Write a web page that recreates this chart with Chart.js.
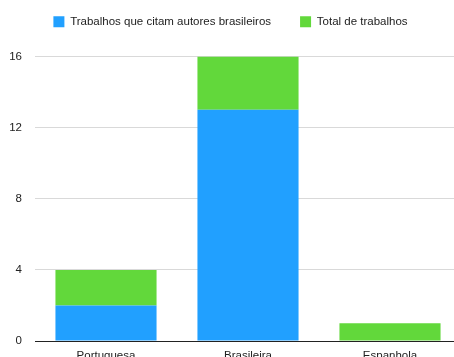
<!DOCTYPE html>
<html>
<head>
<meta charset="utf-8">
<script src="https://cdn.jsdelivr.net/npm/chart.js@4"></script>
<style>
  html, body { margin: 0; padding: 0; background: #fff; overflow: hidden; }
  canvas { display: block; }
</style>
</head>
<body>
<canvas id="chart" width="461" height="372"></canvas>
<script>
// data
const categories = ['Portuguesa', 'Brasileira', 'Espanhola'];
const citingBrazilian = [2, 13, 0];
const totalWorks = [2, 3, 1];
const yTicks = [0, 4, 8, 12, 16];

const FONT = { family: "'Liberation Sans', Arial, Helvetica, sans-serif", size: 11.5 };

// fixed legend height so the plot top sits where the reference has it
const legendHeight = {
    id: 'legendHeight',
    beforeInit(chart) {
        const fit = chart.legend.fit;
        chart.legend.fit = function () {
            fit.call(this);
            this.height = 69.5;
        };
    }
};

new Chart(document.getElementById('chart'), {
    type: 'bar',
    data: {
        labels: categories,
        datasets: [
            {
                label: 'Trabalhos que citam autores brasileiros',
                data: citingBrazilian,
                backgroundColor: '#21a0ff'
            },
            {
                label: 'Total de trabalhos',
                data: totalWorks,
                backgroundColor: '#62d83b'
            }
        ]
    },
    options: {
        responsive: false,
        animation: false,
        layout: { padding: { top: -13, left: 0, right: 0, bottom: 0 } },
        datasets: {
            bar: { categoryPercentage: 0.712, barPercentage: 1, borderWidth: 0 }
        },
        plugins: {
            tooltip: { enabled: false },
            legend: {
                position: 'top',
                labels: {
                    boxWidth: 11,
                    boxHeight: 11,
                    padding: 29,
                    color: '#222',
                    font: FONT
                }
            }
        },
        scales: {
            x: {
                stacked: true,
                grid: { display: false, drawTicks: false },
                border: { display: true, color: '#222', width: 1 },
                ticks: { color: '#222', font: FONT, padding: 7.5 },
                afterFit(scale) { scale.height = 31; }
            },
            y: {
                stacked: true,
                min: 0,
                max: 16,
                afterBuildTicks(scale) {
                    scale.ticks = yTicks.map(v => ({ value: v }));
                },
                grid: { color: '#d9d9d9', drawTicks: false },
                border: { display: false },
                ticks: { color: '#222', font: FONT, padding: 13 },
                afterFit(scale) { scale.width = 35; }
            }
        }
    },
    plugins: [legendHeight]
});
</script>
</body>
</html>
